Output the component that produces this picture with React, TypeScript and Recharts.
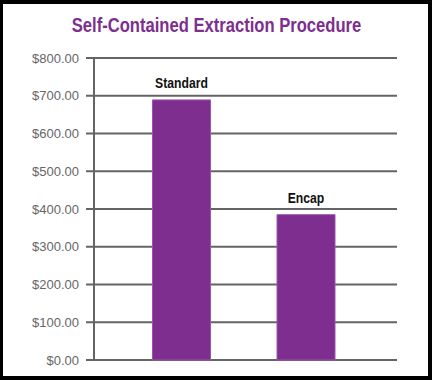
import { BarChart, Bar, XAxis, YAxis, CartesianGrid, LabelList } from "recharts";

const categories = ["Standard", "Encap"];
const costs = [689, 385];
const yTicks = [0, 100, 200, 300, 400, 500, 600, 700, 800];

const data = categories.map((name, i) => ({ name, cost: costs[i] }));

const PURPLE = "#7D2E8E";
const GRID = "#646464";

// narrow bold label above each bar (no condensed font installed, so squeeze it)
const BarName = (props: any) => {
  const { x, y, width, value } = props;
  const cx = Number(x) + Number(width) / 2;
  return (
    <text
      x={cx}
      y={Number(y) - 12}
      textAnchor="middle"
      fill="#111"
      fontSize={14}
      fontWeight={700}
      fontFamily="'Liberation Sans', Arial, sans-serif"
      transform={`translate(${cx} 0) scale(0.87 1) translate(${-cx} 0)`}
    >
      {value}
    </text>
  );
};

export default function App() {
  return (
    <div style={{ position: "absolute", left: 0, top: 0, width: 432, height: 380, background: "#000" }}>
      <div style={{ position: "absolute", left: 3, top: 4, width: 425, height: 372, background: "#fff" }} />
      <div
        style={{
          position: "absolute",
          left: 0,
          top: 13,
          width: 433,
          textAlign: "center",
          fontFamily: "'Liberation Sans', Arial, sans-serif",
          fontWeight: 700,
          fontSize: 21,
          color: PURPLE,
          lineHeight: "24px",
          transform: "scaleX(0.79)",
          whiteSpace: "nowrap",
        }}
      >
        Self-Contained Extraction Procedure
      </div>
      <div style={{ position: "absolute", left: 0, top: 0 }}>
        <BarChart width={432} height={380} data={data} margin={{ top: 58, right: 35, left: 0, bottom: 20 }}>
          <CartesianGrid horizontal vertical={false} stroke={GRID} strokeWidth={2} />
          <XAxis dataKey="name" hide padding={{ left: 25.5, right: 28.5 }} />
          <YAxis
            width={94}
            domain={[0, 800]}
            ticks={yTicks}
            interval={0}
            tickFormatter={(v: number) => `$${v.toFixed(2)}`}
            tick={{ fontSize: 13, fill: "#666", fontFamily: "'Liberation Sans', Arial, sans-serif" }}
            tickSize={8}
            tickMargin={7}
            tickLine={{ stroke: GRID, strokeWidth: 2 }}
            axisLine={{ stroke: GRID, strokeWidth: 2 }}
          />
          <Bar dataKey="cost" fill={PURPLE} stroke="#9C55AE" strokeWidth={1} barSize={58} isAnimationActive={false}>
            <LabelList dataKey="name" content={BarName} />
          </Bar>
        </BarChart>
      </div>
    </div>
  );
}
